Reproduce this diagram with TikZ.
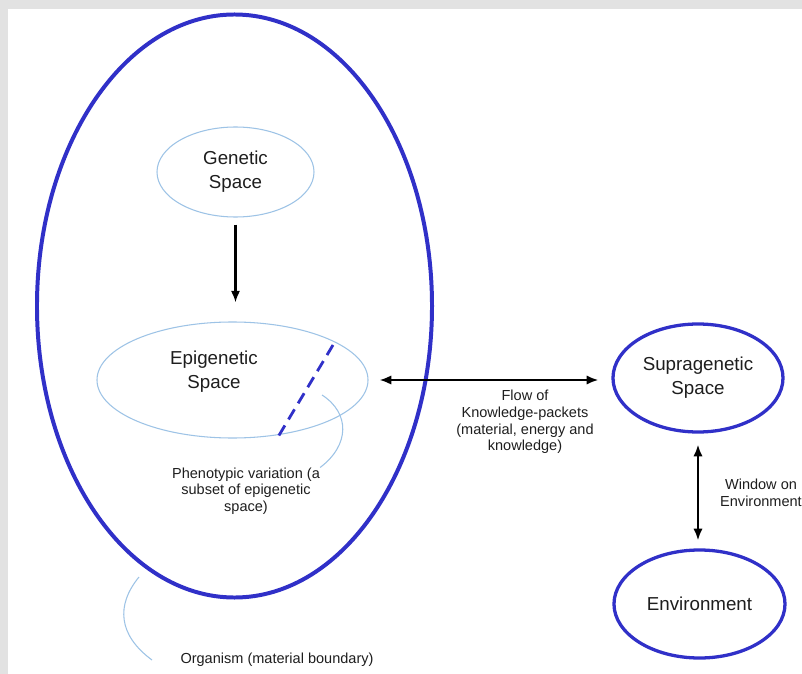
\documentclass[tikz,border=0pt]{standalone}
\usepackage{fontspec}
\setmainfont{Liberation Sans}
\usetikzlibrary{shapes.geometric,arrows.meta}

\definecolor{ringblue}{RGB}{48,48,200}
\definecolor{paleblue}{RGB}{157,195,230}
\definecolor{framegray}{RGB}{226,226,226}
\definecolor{inkgray}{RGB}{30,30,30}

\newcommand{\bigtxt}{\fontsize{16}{20.5}\selectfont}
\newcommand{\smalltxt}{\fontsize{12.4}{14.1}\selectfont}

\tikzset{
  space/.style={ellipse,draw=paleblue,line width=0.9pt,inner sep=0pt,
    text=inkgray,font=\bigtxt,align=center},
  ring/.style={ellipse,draw=ringblue,line width=2.8pt,inner sep=0pt,
    text=inkgray,font=\bigtxt,align=center},
  note/.style={text=inkgray,font=\smalltxt,align=center,inner sep=0pt},
  arr/.style={line width=1.9pt,-{Latex[length=10pt,width=8pt]}},
  twoarr/.style={line width=1.9pt,{Latex[length=10pt,width=8pt]}-{Latex[length=10pt,width=8pt]}},
  lead/.style={draw=paleblue,line width=0.9pt},
}

\begin{document}
\begin{tikzpicture}[x=0.03cm,y=-0.03cm]
  \useasboundingbox (0,0) rectangle (802,674);
  \fill[framegray] (0,0) rectangle (802,674);
  \fill[white] (8,9) rectangle (802,674);

  \node[ring,line width=3.4pt,minimum width=11.85cm,minimum height=17.49cm] (org) at (234.5,306) {};
  \node[space,minimum width=4.71cm,minimum height=2.7cm] (gen) at (235.5,172) {Genetic\\Space};
  \node[space,minimum width=8.13cm,minimum height=3.48cm] (epi) at (232.5,380) {};
  \node[text=inkgray,font=\bigtxt,align=center] (epitxt) at (214,372) {Epigenetic\\Space};
  \node[ring,minimum width=5.1cm,minimum height=3.24cm] (supra) at (698,378) {Supragenetic\\Space};
  \node[ring,minimum width=5.13cm,minimum height=3.24cm] (env) at (699.5,604) {Environment};

  \node[note] (pheno) at (246,491) {Phenotypic variation (a\\subset of epigenetic\\space)};
  \node[note] (flowtxt) at (525,422) {Flow of\\Knowledge-packets\\(material, energy and\\knowledge)};
  \node[note] (wintxt) at (761,493) {Window on\\Environment};
  \node[note] (orgtxt) at (277,660) {Organism (material boundary)};

  \coordinate (pa) at (333,345);
  \coordinate (pb) at (278,437);
  \draw[ringblue,line width=2.4pt,dash pattern=on 10pt off 6pt] (pa) -- (pb);

  \draw[arr,shorten <=0.21cm,shorten >=0.57cm] (gen.south) -- (gen.south |- epi.north);
  \draw[twoarr,shorten <=0.33cm,shorten >=0.39cm] (epi.east) -- (epi.east -| supra.west);
  \draw[twoarr,shorten <=0.33cm,shorten >=0.24cm] (supra.south) -- (supra.south |- env.north);

  \coordinate (pv) at (322,395);
  \draw[lead] (pv) .. controls (350,413) and (350,445) .. (pheno.north east);
  \coordinate (ob) at (139,577);
  \coordinate (oe) at (152,660);
  \draw[lead] (ob) .. controls (116,605) and (118,635) .. (oe);
\end{tikzpicture}
\end{document}
